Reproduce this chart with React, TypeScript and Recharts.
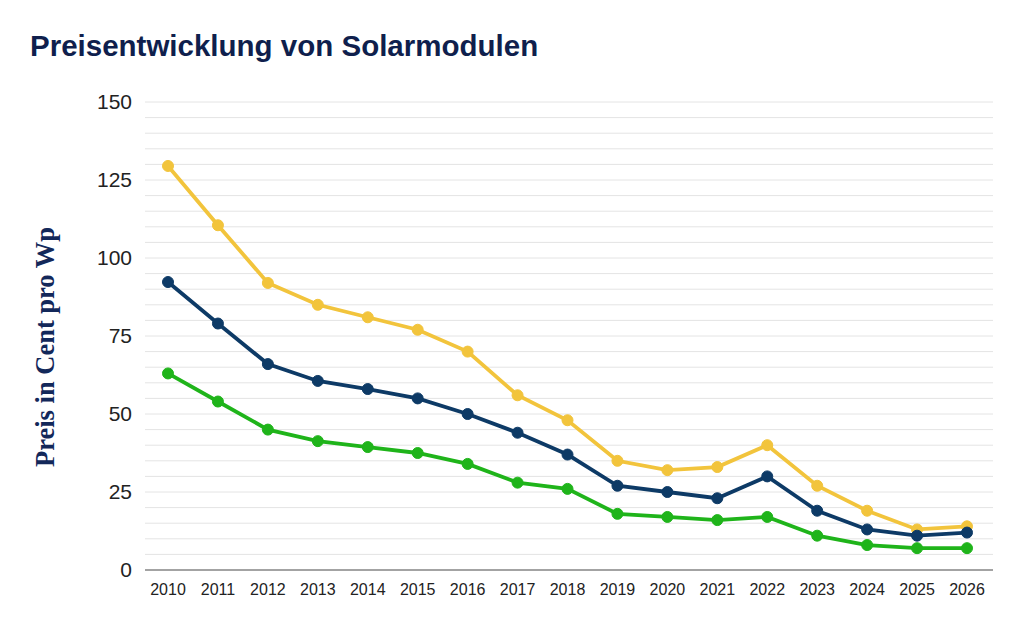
import { LineChart, Line, XAxis, YAxis, CartesianGrid } from 'recharts';

// Jahre auf der x-Achse
const years = [
  '2010', '2011', '2012', '2013', '2014', '2015', '2016', '2017', '2018',
  '2019', '2020', '2021', '2022', '2023', '2024', '2025', '2026',
];

// Preise in Cent pro Wp
const priceHigh = [129.5, 110.5, 92, 85, 81, 77, 70, 56, 48, 35, 32, 33, 40, 27, 19, 13, 14];
const priceMid = [92.3, 79, 66, 60.6, 58, 55, 50, 44, 37, 27, 25, 23, 30, 19, 13, 11, 12];
const priceLow = [63, 54, 45, 41.3, 39.4, 37.5, 34, 28, 26, 18, 17, 16, 17, 11, 8, 7, 7];

const yMax = 150;
const yTicks = [0, 25, 50, 75, 100, 125, 150];
// feine Gitterlinien alle 5 Cent
const gridTicks = Array.from({ length: 31 }, (_, i) => i * 5);

const data = years.map((year, i) => ({
  year,
  high: priceHigh[i],
  mid: priceMid[i],
  low: priceLow[i],
}));

const YLabel = (props: any) => {
  const { viewBox } = props;
  const cx = 45;
  const cy = viewBox.y + viewBox.height / 2 + 11;
  return (
    <text
      x={cx}
      y={cy}
      transform={`rotate(-90, ${cx}, ${cy})`}
      textAnchor="middle"
      dominantBaseline="central"
      fill="#13285a"
      fontFamily="'Liberation Serif', serif"
      fontWeight="bold"
      fontSize={26.5}
    >
      Preis in Cent pro Wp
    </text>
  );
};

export default function App() {
  return (
    <div style={{ position: 'absolute', left: 0, top: 0, width: 1024, height: 632, background: '#fff' }}>
      <div
        style={{
          position: 'absolute',
          left: 30,
          top: 29,
          fontFamily: "'Liberation Sans', Arial, sans-serif",
          fontWeight: 'bold',
          fontSize: 29.5,
          color: '#0f1f4d',
        }}
      >
        Preisentwicklung von Solarmodulen
      </div>
      <LineChart
        width={1024}
        height={632}
        data={data}
        margin={{ top: 102, right: 31, bottom: 32, left: 0 }}
      >
        <CartesianGrid
          vertical={false}
          stroke="#e4e4e4"
          strokeWidth={1}
          horizontalCoordinatesGenerator={({ offset }: any) =>
            gridTicks.map((t) => offset.top + offset.height * (1 - t / yMax))
          }
        />
        <XAxis
          dataKey="year"
          axisLine={{ stroke: '#888', strokeWidth: 1.5 }}
          tickLine={false}
          tick={{ fill: '#222', fontSize: 16, fontFamily: "'Liberation Sans', Arial, sans-serif" }}
          tickMargin={8}
          padding={{ left: 23, right: 26 }}
          interval={0}
        />
        <YAxis
          width={145}
          domain={[0, yMax]}
          ticks={yTicks}
          axisLine={false}
          tickLine={false}
          tickSize={0}
          tickMargin={13}
          tick={{ fill: '#222', fontSize: 21, fontFamily: "'Liberation Sans', Arial, sans-serif" }}
          label={<YLabel />}
        />
        <Line
          dataKey="high"
          stroke="#f2c43c"
          strokeWidth={3.8}
          dot={{ r: 5.5, fill: '#f2c43c', stroke: '#f2c43c', strokeWidth: 1 }}
          isAnimationActive={false}
        />
        <Line
          dataKey="mid"
          stroke="#0d3a66"
          strokeWidth={3.8}
          dot={{ r: 5.5, fill: '#0d3a66', stroke: '#0d3a66', strokeWidth: 1 }}
          isAnimationActive={false}
        />
        <Line
          dataKey="low"
          stroke="#1fb41a"
          strokeWidth={3.8}
          dot={{ r: 5.5, fill: '#1fb41a', stroke: '#1fb41a', strokeWidth: 1 }}
          isAnimationActive={false}
        />
      </LineChart>
    </div>
  );
}
